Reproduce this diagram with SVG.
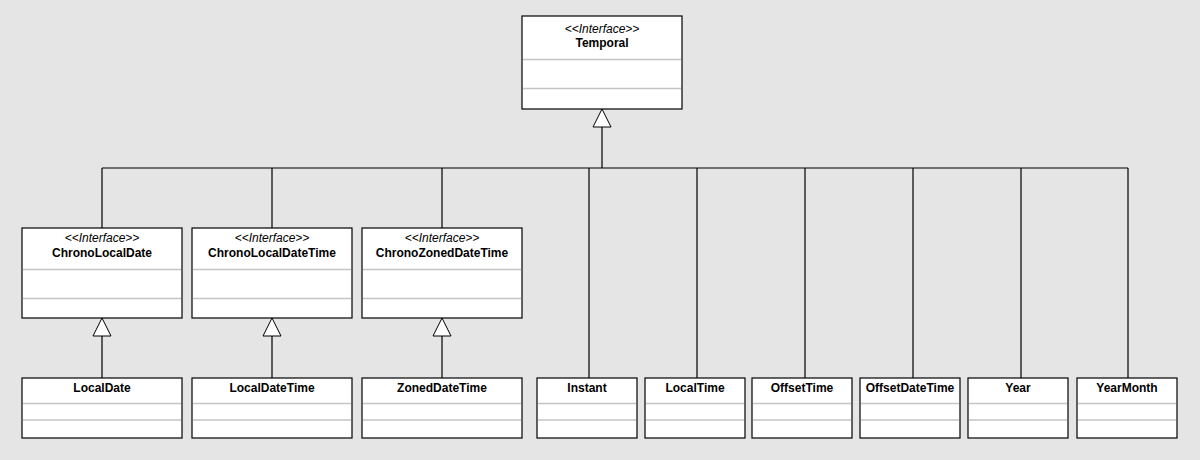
<svg xmlns="http://www.w3.org/2000/svg" width="1200" height="460" viewBox="0 0 1200 460">
<style>
.box{fill:#ffffff;stroke:#000000;stroke-width:1.2}
.sep{stroke:#c4c4c4;stroke-width:1.5}
.st{font-family:"Liberation Sans",Arial,sans-serif;font-size:12px;font-style:italic;text-anchor:middle;fill:#000}
.nm{font-family:"Liberation Sans",Arial,sans-serif;font-size:12px;font-weight:bold;text-anchor:middle;fill:#000}
.ln{stroke:#000;stroke-width:1.2;fill:none}
.tri{fill:#ffffff;stroke:#000;stroke-width:1}
</style>
<rect width="1200" height="460" fill="#e5e5e5"/>
<g id="connectors">
<path class="ln" d="M602 127V168M102 168H1128M102 168V228M272 168V228M442 168V228M589 168V378M697 168V378M805 168V378M913 168V378M1021 168V378M1128 168V378"/>
<polygon class="tri" points="602,109 593,127 611,127"/>
<path class="ln" d="M102 336V378M272 336V378M442 336V378"/>
<polygon class="tri" points="102,318 93,336 111,336"/>
<polygon class="tri" points="272,318 263,336 281,336"/>
<polygon class="tri" points="442,318 433,336 451,336"/>
</g>
<g id="Temporal">
<rect class="box" x="522" y="16" width="160" height="93"/>
<line class="sep" x1="523" y1="59.5" x2="681" y2="59.5"/>
<line class="sep" x1="523" y1="88.5" x2="681" y2="88.5"/>
<text class="st" x="602" y="33">&lt;&lt;Interface&gt;&gt;</text>
<text class="nm" x="602" y="46.5">Temporal</text>
</g>
<g id="ChronoLocalDate">
<rect class="box" x="22" y="228" width="160" height="90"/>
<line class="sep" x1="23" y1="269.5" x2="181" y2="269.5"/>
<line class="sep" x1="23" y1="298.5" x2="181" y2="298.5"/>
<text class="st" x="102" y="242">&lt;&lt;Interface&gt;&gt;</text>
<text class="nm" x="102" y="257">ChronoLocalDate</text>
</g>
<g id="ChronoLocalDateTime">
<rect class="box" x="192" y="228" width="160" height="90"/>
<line class="sep" x1="193" y1="269.5" x2="351" y2="269.5"/>
<line class="sep" x1="193" y1="298.5" x2="351" y2="298.5"/>
<text class="st" x="272" y="242">&lt;&lt;Interface&gt;&gt;</text>
<text class="nm" x="272" y="257">ChronoLocalDateTime</text>
</g>
<g id="ChronoZonedDateTime">
<rect class="box" x="362" y="228" width="160" height="90"/>
<line class="sep" x1="363" y1="269.5" x2="521" y2="269.5"/>
<line class="sep" x1="363" y1="298.5" x2="521" y2="298.5"/>
<text class="st" x="442" y="242">&lt;&lt;Interface&gt;&gt;</text>
<text class="nm" x="442" y="257">ChronoZonedDateTime</text>
</g>
<g id="LocalDate">
<rect class="box" x="22" y="378" width="160" height="60"/>
<line class="sep" x1="23" y1="403.5" x2="181" y2="403.5"/>
<line class="sep" x1="23" y1="420" x2="181" y2="420"/>
<text class="nm" x="102" y="391.5">LocalDate</text>
</g>
<g id="LocalDateTime">
<rect class="box" x="192" y="378" width="160" height="60"/>
<line class="sep" x1="193" y1="403.5" x2="351" y2="403.5"/>
<line class="sep" x1="193" y1="420" x2="351" y2="420"/>
<text class="nm" x="272" y="391.5">LocalDateTime</text>
</g>
<g id="ZonedDateTime">
<rect class="box" x="362" y="378" width="160" height="60"/>
<line class="sep" x1="363" y1="403.5" x2="521" y2="403.5"/>
<line class="sep" x1="363" y1="420" x2="521" y2="420"/>
<text class="nm" x="442" y="391.5">ZonedDateTime</text>
</g>
<g id="Instant">
<rect class="box" x="537" y="378" width="100" height="60"/>
<line class="sep" x1="538" y1="403.5" x2="636" y2="403.5"/>
<line class="sep" x1="538" y1="420" x2="636" y2="420"/>
<text class="nm" x="587" y="391.5">Instant</text>
</g>
<g id="LocalTime">
<rect class="box" x="645" y="378" width="100" height="60"/>
<line class="sep" x1="646" y1="403.5" x2="744" y2="403.5"/>
<line class="sep" x1="646" y1="420" x2="744" y2="420"/>
<text class="nm" x="695" y="391.5">LocalTime</text>
</g>
<g id="OffsetTime">
<rect class="box" x="752" y="378" width="100" height="60"/>
<line class="sep" x1="753" y1="403.5" x2="851" y2="403.5"/>
<line class="sep" x1="753" y1="420" x2="851" y2="420"/>
<text class="nm" x="802" y="391.5">OffsetTime</text>
</g>
<g id="OffsetDateTime">
<rect class="box" x="860" y="378" width="100" height="60"/>
<line class="sep" x1="861" y1="403.5" x2="959" y2="403.5"/>
<line class="sep" x1="861" y1="420" x2="959" y2="420"/>
<text class="nm" x="910" y="391.5">OffsetDateTime</text>
</g>
<g id="Year">
<rect class="box" x="968" y="378" width="100" height="60"/>
<line class="sep" x1="969" y1="403.5" x2="1067" y2="403.5"/>
<line class="sep" x1="969" y1="420" x2="1067" y2="420"/>
<text class="nm" x="1018" y="391.5">Year</text>
</g>
<g id="YearMonth">
<rect class="box" x="1077" y="378" width="100" height="60"/>
<line class="sep" x1="1078" y1="403.5" x2="1176" y2="403.5"/>
<line class="sep" x1="1078" y1="420" x2="1176" y2="420"/>
<text class="nm" x="1127" y="391.5">YearMonth</text>
</g>
</svg>
